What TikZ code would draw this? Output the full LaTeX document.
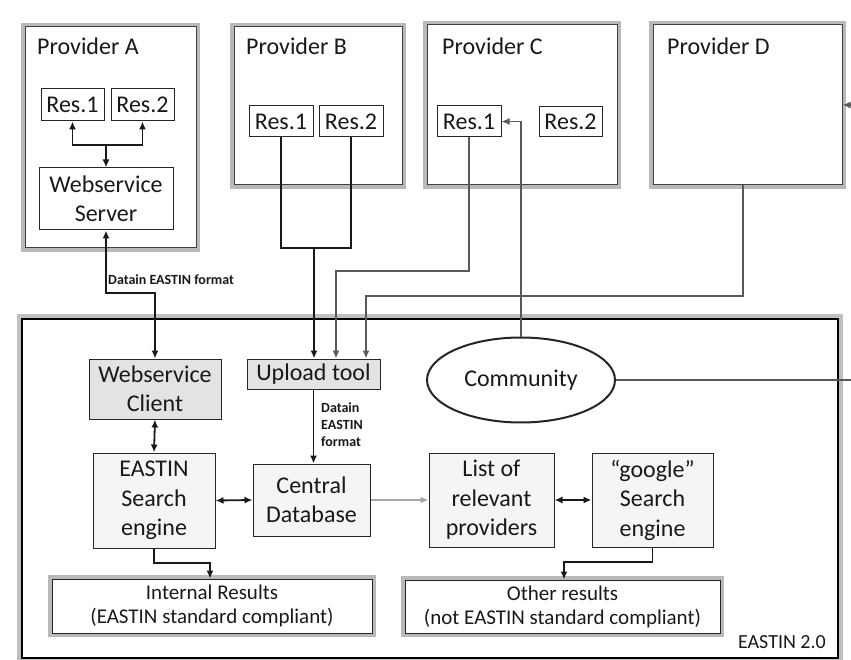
\documentclass[tikz,border=0pt]{standalone}
\usepackage{fontspec}
\setmainfont{Carlito}
\usetikzlibrary{arrows.meta,shapes.geometric}
\begin{document}
\begin{tikzpicture}[x=1pt,y=-1pt,
  >={Latex[length=8pt,width=7pt]},
  every node/.style={inner sep=0pt,text=black!90},
  provbox/.style={preaction={draw=gray!55,line width=8pt},draw=black!75,line width=1pt,fill=white},
  resbox/.style={draw=black!85,line width=1pt,fill=white,font=\fontsize{24}{28}\selectfont},
  procbox/.style={draw=black!85,line width=1pt,fill=gray!8,align=center,font=\fontsize{24}{29.5}\selectfont},
  greybox/.style={procbox,fill=gray!22},
  resultbox/.style={preaction={draw=gray!55,line width=8pt},draw=black!85,line width=1pt,fill=white,align=center,font=\fontsize{21}{24}\selectfont},
  provlabel/.style={anchor=base west,font=\fontsize{24}{28}\selectfont},
  smalllabel/.style={align=left,font=\bfseries\fontsize{14}{17}\selectfont},
  conn/.style={draw=black!90,line width=1.8pt},
  gconn/.style={draw=black!65,line width=1.8pt}
]
\useasboundingbox (0,0) rectangle (851,660);
\fill[white] (0,0) rectangle (851,660);

% EASTIN 2.0 frame
\node[preaction={draw=gray!50,line width=10pt},draw=black,line width=2pt,fill=white,
  minimum width=816pt,minimum height=339pt] (eastin) at (430,488.5) {};
\node[anchor=base east,font=\fontsize{20}{24}\selectfont] (eastinlbl) at (826,648) {EASTIN 2.0};

% Providers
\node[provbox,minimum width=171pt,minimum height=221pt] (provA) at (110.5,137.5) {};
\node[provbox,minimum width=168pt,minimum height=158pt] (provB) at (318,106) {};
\node[provbox,minimum width=190pt,minimum height=160pt] (provC) at (522,105) {};
\node[provbox,minimum width=189pt,minimum height=160pt] (provD) at (747.5,105) {};
\node[provlabel] (labA) at (37,55) {Provider A};
\node[provlabel] (labB) at (246,55) {Provider B};
\node[provlabel] (labC) at (442,55) {Provider C};
\node[provlabel] (labD) at (667,55) {Provider D};

% Resources
\node[resbox,minimum width=63pt,minimum height=32pt] (aR1) at (72.5,105) {Res.1};
\node[resbox,minimum width=63pt,minimum height=32pt] (aR2) at (142.5,105) {Res.2};
\node[resbox,minimum width=64pt,minimum height=31pt] (bR1) at (281,121.5) {Res.1};
\node[resbox,minimum width=64pt,minimum height=31pt] (bR2) at (351,121.5) {Res.2};
\node[resbox,minimum width=64pt,minimum height=31pt] (cR1) at (469,121.5) {Res.1};
\node[resbox,minimum width=63pt,minimum height=30pt] (cR2) at (570.5,122) {Res.2};

\node[procbox,fill=white,minimum width=134pt,minimum height=62pt] (wss) at (106,199) {Webservice\\Server};

% Inside EASTIN 2.0
\node[greybox,minimum width=132pt,minimum height=60pt] (wsc) at (155,389) {Webservice\\Client};
\node[greybox,minimum width=133pt,minimum height=30pt] (upload) at (313.5,374) {Upload tool};
\node[ellipse,draw=black!85,line width=2pt,fill=white,minimum width=188pt,minimum height=85pt,
  font=\fontsize{24}{28}\selectfont] (comm) at (521,380) {Community};
\node[procbox,minimum width=122pt,minimum height=95pt] (ese) at (154,500.5) {EASTIN\\Search\\engine};
\node[procbox,minimum width=117pt,minimum height=72pt] (cdb) at (311.5,500) {Central\\Database};
\node[procbox,minimum width=125pt,minimum height=94pt] (list) at (491.5,500) {List of\\relevant\\providers};
\node[procbox,minimum width=121pt,minimum height=94pt] (goog) at (652.5,500) {“google”\\Search\\engine};
\node[resultbox,minimum width=320pt,minimum height=54pt] (intr) at (212,606) {Internal Results\\(EASTIN standard compliant)};
\node[resultbox,minimum width=315pt,minimum height=53pt] (oth) at (562.5,606.5) {Other results\\(not EASTIN standard compliant)};

% Junction coordinates
\coordinate (jA) at (106,145);
\coordinate (kA) at (155,293);
\coordinate (jB) at (314,248);
\coordinate (jC) at (336,271);
\coordinate (jD) at (366,296);
\coordinate (dS) at (743,185);
\coordinate (rE) at (862,380);
\coordinate (rD) at (862,105);
\coordinate (jI) at (210,563);
\coordinate (jO) at (564,562);

% Provider A
\draw[conn,<->] (aR1.south) |- (jA) -| (aR2.south);
\draw[conn,->] (jA) -- (wss.north);
\draw[conn,<->] (wss.south) |- (kA) -- (wsc.north);
\node[smalllabel,anchor=base west] (lblA) at (108,285) {Datain EASTIN format};

% Provider B
\draw[conn] (bR1.south) |- (jB) -| (bR2.south);
\draw[conn,->] (jB) -- (jB |- upload.north);

% Provider C
\draw[gconn,->] (cR1.south) |- (jC) -- (jC |- upload.north);
% Provider D
\draw[gconn,->] (dS) |- (jD) -- (jD |- upload.north);
% Community
\draw[gconn,->] (comm.north) |- (cR1.east);
\draw[gconn,->] (comm.east) -- (rE) -- (rD) -- (provD.east);

% Inside
\draw[conn,<->] (wsc.south) -- (ese.north);
\draw[conn,<->] (ese.east) -- (cdb.west);
\draw[conn,->] (upload.south) -- (upload.south |- cdb.north);
\node[smalllabel,anchor=north west] (lblU) at (321,402) {Datain\\EASTIN\\format};
\draw[gconn,draw=gray!70,line width=2.2pt,->] (cdb.east) -- (list.west);
\draw[conn,<->] (list.east) -- (goog.west);
\draw[conn,->] (ese.south) |- (jI) -- (jI |- intr.north);
\draw[conn,->] (goog.south) |- (jO) -- (jO |- oth.north);
\end{tikzpicture}
\end{document}
